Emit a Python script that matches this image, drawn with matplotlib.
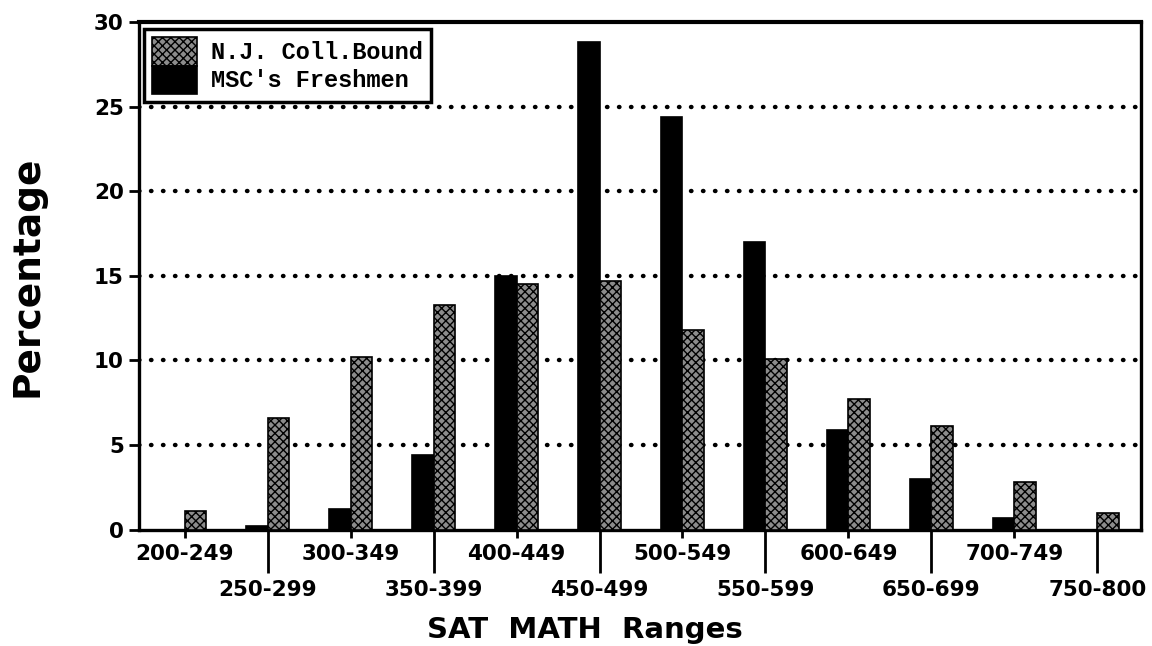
import matplotlib
matplotlib.use("Agg")
import matplotlib.pyplot as plt
import numpy as np

categories = ["200-249", "250-299", "300-349", "350-399", "400-449", "450-499",
              "500-549", "550-599", "600-649", "650-699", "700-749", "750-800"]
msc_freshmen = [0, 0.2, 1.2, 4.4, 15.0, 28.8, 24.4, 17.0, 5.9, 3.0, 0.7, 0]
nj_coll_bound = [1.1, 6.6, 10.2, 13.3, 14.5, 14.7, 11.8, 10.1, 7.7, 6.1, 2.8, 1.0]
y_ticks = [0, 5, 10, 15, 20, 25, 30]

plt.rcParams['hatch.linewidth'] = 1.0

fig = plt.figure(figsize=(11.52, 6.46), dpi=100)
ax = fig.add_axes([0.1207, 0.180, 0.870, 0.786])

x = np.arange(len(categories))
w = 0.26
ax.bar(x, msc_freshmen, width=-w, align='edge', color='black',
       edgecolor='black', linewidth=1.2, label="MSC's Freshmen", zorder=3)
ax.bar(x, nj_coll_bound, width=w, align='edge', color='#8c8c8c',
       edgecolor='black', hatch='xxxx', linewidth=1.2,
       label="N.J. Coll.Bound", zorder=3)

ax.set_xlim(-0.55, 11.53)
ax.set_ylim(0, 30)

# y axis
ax.set_yticks(y_ticks)
ax.set_yticklabels([str(v) for v in y_ticks], fontsize=15.5, fontweight='bold')
ax.tick_params(axis='y', direction='out', length=7, width=2, pad=4)

# x axis: alternating short/long ticks
even = x[0::2]
odd = x[1::2]
ax.set_xticks(even)
ax.set_xticklabels([categories[i] for i in even], fontsize=15.5, fontweight='bold')
ax.set_xticks(odd, minor=True)
ax.set_xticklabels([categories[i] for i in odd], minor=True, fontsize=15.5,
                   fontweight='bold')
ax.tick_params(axis='x', which='major', direction='out', length=6, width=2, pad=4)
ax.tick_params(axis='x', which='minor', direction='out', length=31, width=2, pad=5)

# grid
for v in y_ticks[1:-1]:
    ax.axhline(v, color='black', linewidth=3.2, linestyle=(0, (0.1, 2.6)),
               dash_capstyle='round', zorder=1)

for s in ax.spines.values():
    s.set_linewidth(2.4)
ax.spines['top'].set_linewidth(3.0)

ax.set_ylabel("Percentage", fontsize=27, fontweight='bold')
ax.yaxis.set_label_coords(-0.093, 0.5)
ax.set_xlabel("SAT  MATH  Ranges", fontsize=21, fontweight='bold')
ax.xaxis.set_label_coords(0.445, -0.17)

handles, labels = ax.get_legend_handles_labels()
leg = ax.legend([handles[1], handles[0]], [labels[1], labels[0]],
                loc='upper left', bbox_to_anchor=(0.0, 0.995),
                prop={'family': 'Liberation Mono', 'weight': 'bold', 'size': 17},
                fancybox=False, frameon=True, edgecolor='black',
                handlelength=1.9, handleheight=1.45, labelspacing=0.0,
                handletextpad=0.6, borderpad=0.35, borderaxespad=0.2)
leg.get_frame().set_linewidth(2.5)
leg.get_frame().set_alpha(1)

fig.savefig("out.png", dpi=100)
